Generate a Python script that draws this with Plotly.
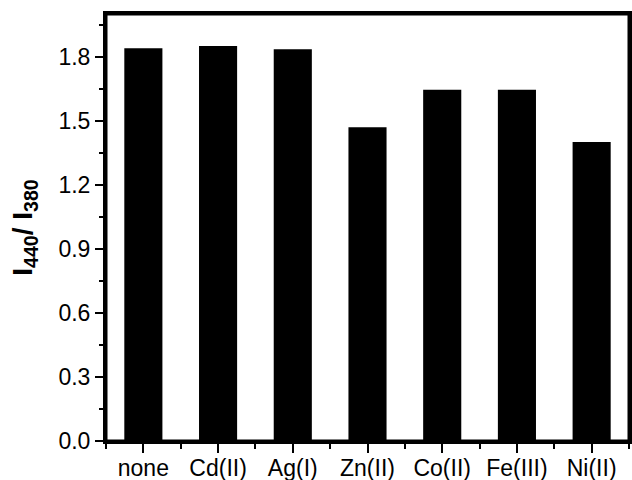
import plotly.graph_objects as go

categories = ["none", "Cd(II)", "Ag(I)", "Zn(II)", "Co(II)", "Fe(III)", "Ni(II)"]
values = [1.84, 1.85, 1.835, 1.47, 1.645, 1.645, 1.40]
positions = list(range(len(categories)))

fig = go.Figure()
fig.add_trace(go.Bar(x=positions, y=values, width=0.51,
                     marker=dict(color="black", line=dict(width=0))))

font = dict(family="Liberation Sans, Arial, sans-serif", color="black")

fig.update_layout(
    width=632, height=480,
    margin=dict(l=106, r=3, t=14, b=39, autoexpand=False),
    plot_bgcolor="white", paper_bgcolor="white",
    showlegend=False,
    font=font,
    xaxis=dict(
        range=[-0.5, 6.5], tickmode="array", tickvals=positions, ticktext=categories,
        showline=True, linewidth=3, linecolor="black", mirror=True,
        ticks="outside", ticklen=9, tickwidth=2, tickcolor="black",
        tickfont=dict(size=23, family=font["family"], color="black"),
        ticklabelstandoff=-5,
        showgrid=False, zeroline=False, automargin=False,
        minor=dict(tick0=-0.5, dtick=1, ticks="outside", ticklen=5, tickwidth=2, tickcolor="black", showgrid=False),
    ),
    yaxis=dict(
        range=[0, 2.0], dtick=0.3, tick0=0, tickformat=".1f",
        showline=True, linewidth=3, linecolor="black", mirror=True,
        ticks="outside", ticklen=8, tickwidth=2, tickcolor="black",
        tickfont=dict(size=23, family=font["family"], color="black"),
        showgrid=False, zeroline=False, automargin=False,
        minor=dict(dtick=0.15, ticks="outside", ticklen=4, tickwidth=2, tickcolor="black", showgrid=False),
        title=dict(text="<b>I<sub>440</sub>/ I<sub>380</sub></b>",
                   font=dict(size=28, family=font["family"], color="black"), standoff=18),
    ),
    shapes=[dict(type="rect", xref="paper", yref="paper", x0=0, x1=1, y0=0, y1=1,
                 line=dict(color="black", width=3), fillcolor="rgba(0,0,0,0)", layer="above")],
)

fig.write_html("out.html")
